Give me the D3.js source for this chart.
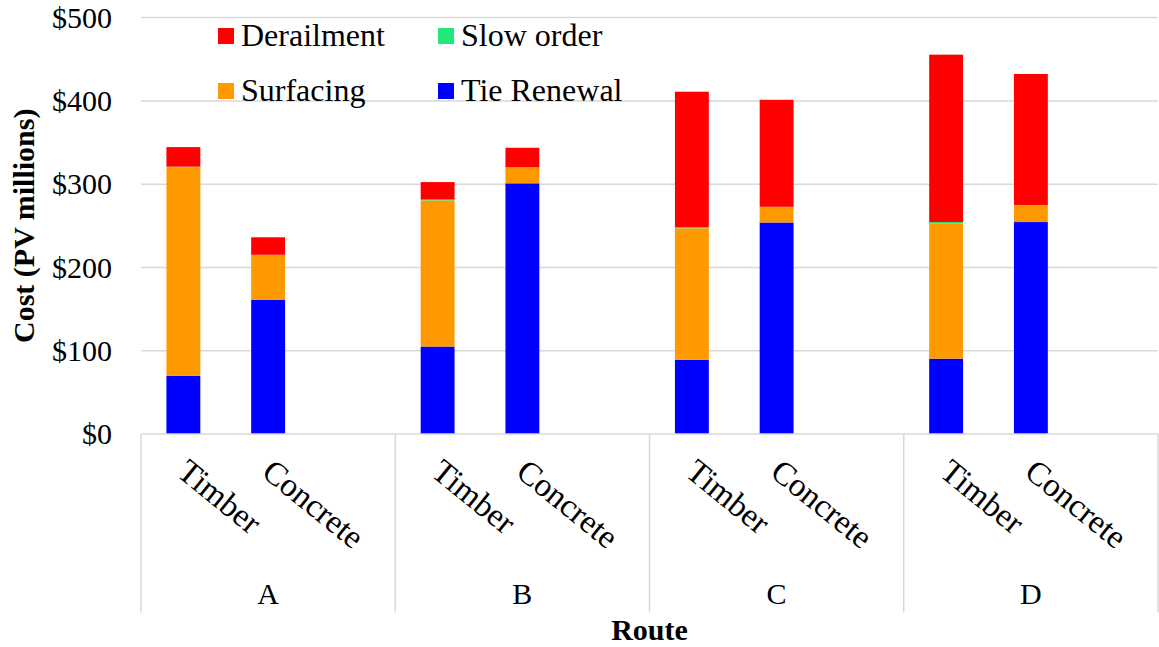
<!DOCTYPE html>
<html>
<head>
<meta charset="utf-8">
<script src="https://cdn.jsdelivr.net/npm/d3@7/dist/d3.min.js"></script>
<style>
  html, body { margin: 0; padding: 0; background: #fff; }
  svg { display: block; }
</style>
</head>
<body>
<svg id="chart" width="1159" height="647"></svg>
<script>
// ---- data ----
const routes = ["A", "B", "C", "D"];
const tieTypes = ["Timber", "Concrete"];
const seriesNames = ["Tie Renewal", "Surfacing", "Slow order", "Derailment"];
const seriesColors = ["#0000ff", "#ff9900", "#22e67a", "#ff0000"];
// values per bar, order: A-Timber, A-Concrete, B-Timber, B-Concrete, C-Timber, C-Concrete, D-Timber, D-Concrete
const tieRenewal = [70, 161, 105, 301, 89, 254, 90.5, 254.5];
const surfacing  = [250.5, 54, 175.5, 19, 158, 18.5, 162.5, 20];
const slowOrder  = [0.5, 0.2, 1, 0.2, 1.5, 0.3, 1.5, 0.3];
const derailment = [23.5, 21, 21, 23.5, 162.5, 128.5, 201, 157.5];
const yTicks = [0, 100, 200, 300, 400, 500];
const legendOrder = ["Derailment", "Slow order", "Surfacing", "Tie Renewal"];

// ---- build table ----
const FONT = "'Liberation Serif', 'Times New Roman', serif";
const seriesArrays = [tieRenewal, surfacing, slowOrder, derailment];
const rows = [];
routes.forEach((r, ri) => tieTypes.forEach((t, ti) => {
  const i = ri * tieTypes.length + ti;
  const row = { route: r, tie: t };
  seriesNames.forEach((s, si) => row[s] = seriesArrays[si][i]);
  rows.push(row);
}));
const stacked = d3.stack().keys(seriesNames)(rows);
const color = d3.scaleOrdinal().domain(seriesNames).range(seriesColors);

// ---- layout ----
const svg = d3.select("#chart").attr("font-family", FONT);
const pLeft = 141, pRight = 1158, pTop = 17.6, pBottom = 434;
const x0 = d3.scaleBand().domain(routes).range([pLeft, pRight]).padding(0);
const gw = x0.bandwidth();
const x1 = d3.scaleBand().domain(tieTypes).range([0, gw * 2 / 3]).paddingInner(0.6).paddingOuter(0.3);
const y = d3.scaleLinear().domain([0, 500]).range([pBottom, pTop]);

// gridlines
svg.append("g").selectAll("line").data(yTicks.filter(d => d > 0)).join("line")
  .attr("x1", pLeft).attr("x2", pRight)
  .attr("y1", d => y(d)).attr("y2", d => y(d))
  .attr("stroke", "#d9d9d9").attr("stroke-width", 1.5);

// y tick labels
const yAxis = d3.axisLeft(y).tickValues(yTicks).tickFormat(d => "$" + d).tickSize(0).tickPadding(29);
const gy = svg.append("g").attr("transform", `translate(${pLeft},0)`).call(yAxis)
  .attr("font-family", FONT).attr("font-size", 30);
gy.select(".domain").remove();
gy.selectAll("text").attr("fill", "#000");

// bars
svg.append("g").selectAll("g").data(stacked).join("g")
  .attr("fill", d => color(d.key))
  .selectAll("rect").data(d => d).join("rect")
  .attr("x", d => x0(d.data.route) + x1(d.data.tie))
  .attr("width", x1.bandwidth())
  .attr("y", d => y(d[1]))
  .attr("height", d => Math.max(0, y(d[0]) - y(d[1])));

// x axis baseline and group separators
svg.append("line").attr("x1", pLeft).attr("x2", pRight).attr("y1", pBottom).attr("y2", pBottom)
  .attr("stroke", "#d9d9d9").attr("stroke-width", 1.5);
const seps = routes.map(r => x0(r)).concat([pRight]);
svg.append("g").selectAll("line").data(seps).join("line")
  .attr("x1", d => d).attr("x2", d => d).attr("y1", pBottom).attr("y2", 612.5)
  .attr("stroke", "#d9d9d9").attr("stroke-width", 1.5);

// rotated tie type labels
const labG = svg.append("g");
rows.forEach(r => {
  const cx = x0(r.route) + x1(r.tie) + x1.bandwidth() / 2;
  labG.append("text")
    .attr("transform", `translate(${cx - 8},${475}) rotate(39)`)
    .attr("font-family", FONT).attr("font-size", 33)
    .text(r.tie);
});

// route labels
svg.append("g").selectAll("text").data(routes).join("text")
  .attr("x", d => x0(d) + gw / 2).attr("y", 604)
  .attr("text-anchor", "middle").attr("font-family", FONT).attr("font-size", 30)
  .text(d => d);

// axis titles
svg.append("text").attr("x", (pLeft + pRight) / 2).attr("y", 640)
  .attr("text-anchor", "middle").attr("font-family", FONT).attr("font-size", 30).attr("font-weight", "bold")
  .text("Route");
svg.append("text").attr("transform", `translate(34,${(pTop + pBottom) / 2}) rotate(-90)`)
  .attr("text-anchor", "middle").attr("font-family", FONT).attr("font-size", 30).attr("font-weight", "bold")
  .text("Cost (PV millions)");

// legend
const legPos = [[218, 44], [438, 44], [218, 99], [438, 99]];
const lg = svg.append("g");
legendOrder.forEach((name, i) => {
  const [lx, ly] = legPos[i];
  lg.append("rect").attr("x", lx).attr("y", ly - 16).attr("width", 16).attr("height", 16)
    .attr("fill", color(name));
  lg.append("text").attr("x", lx + 23).attr("y", ly + 2).attr("font-family", FONT).attr("font-size", 32).text(name);
});
</script>
</body>
</html>
